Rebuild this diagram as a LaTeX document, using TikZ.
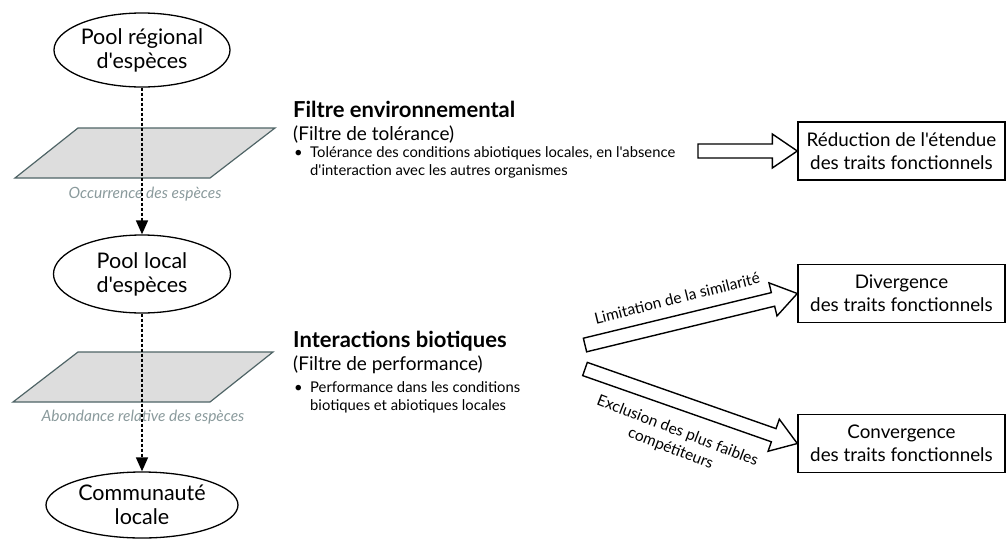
\documentclass[tikz,border=0pt]{standalone}
\usepackage{fontspec}
\setmainfont{Lato}[Ligatures=TeXOff]
\usetikzlibrary{shapes.geometric,arrows.meta,calc}
\definecolor{planefill}{HTML}{DDDDDD}
\definecolor{planeedge}{HTML}{4F6466}
\definecolor{capgray}{HTML}{8A9A9C}
\tikzset{
  pool/.style={ellipse, draw, line width=1.3pt, align=center, inner sep=0pt,
    font=\fontsize{21.5}{24}\selectfont},
  plane/.style={fill=planefill, draw=planeedge, line width=1.2pt},
  caption/.style={font=\itshape\fontsize{15.5}{18}\selectfont, text=capgray, inner sep=0pt},
  flow/.style={line width=1.6pt, dash pattern=on 3pt off 2pt, -{Triangle[length=14pt,width=12pt]}},
  head/.style={font=\bfseries\fontsize{22}{25}\selectfont, anchor=base west, inner sep=0pt},
  subhead/.style={font=\fontsize{19}{22}\selectfont, anchor=base west, inner sep=0pt},
  bul/.style={font=\fontsize{14.8}{18}\selectfont, anchor=base west, inner sep=0pt},
  res/.style={draw, line width=1.4pt, align=center, minimum width=207pt, minimum height=58pt,
    inner sep=0pt, font=\fontsize{18.8}{23}\selectfont},
  barrow/.style={draw, line width=1.4pt, fill=white, line join=miter},
  alabel/.style={font=\fontsize{15.5}{19}\selectfont, align=center, inner sep=0pt},
}
\newcommand{\blockarrow}[2]{%
  \draw[barrow] let \p1=(#1), \p2=(#2), \n1={atan2(\y2-\y1,\x2-\x1)}, \n2={veclen(\x2-\x1,\y2-\y1)} in
    [shift={(\p1)}, rotate=\n1]
    (0pt,-7pt) -- ({\n2*1pt-25pt},-7pt) -- ({\n2*1pt-25pt},-17pt) -- ({\n2*1pt},0pt)
    -- ({\n2*1pt-25pt},17pt) -- ({\n2*1pt-25pt},7pt) -- (0pt,7pt) -- cycle;}
\begin{document}
\begin{tikzpicture}[x=1pt,y=-1pt]
\useasboundingbox (0,0) rectangle (1007,539);
% planes
\draw[plane] (78,128) -- (275,128) -- (210,178) -- (15,178) -- cycle;
\draw[plane] (78,352) -- (273,352) -- (210,402) -- (13,402) -- cycle;
\node[caption] (c1) at (145,194) {Occurrence des espèces};
\node[caption] (c2) at (143,417) {Abondance relative des espèces};
% pools
\node[pool, minimum width=176pt, minimum height=74pt] (e1) at (142,50) {Pool régional\\d'espèces};
\node[pool, minimum width=177pt, minimum height=78pt] (e2) at (142,274) {Pool local\\d'espèces};
\node[pool, minimum width=192pt, minimum height=66pt] (e3) at (142,505) {Communauté\\locale};
\draw[flow] (e1) -- (e2);
\draw[flow] (e2) -- (e3);
% texts
\node[head] (t1) at (293,117) {Filtre environnemental};
\node[subhead] (t1s) at (293,140) {(Filtre de tolérance)};
\node[bul] (b1) at (294,157) {•};
\node[bul] (t1a) at (310,157) {Tolérance des conditions abiotiques locales, en l'absence};
\node[bul] (t1b) at (310,175) {d'interaction avec les autres organismes};
\node[head] (t2) at (293,347) {Interactions biotiques};
\node[subhead] (t2s) at (293,370) {(Filtre de performance)};
\node[bul] (b2) at (294,392) {•};
\node[bul] (t2a) at (310,392) {Performance dans les conditions};
\node[bul] (t2b) at (310,410) {biotiques et abiotiques locales};
% result boxes
\node[res] (r1) at (901.5,151) {Réduction de l'étendue\\des traits fonctionnels};
\node[res] (r2) at (901.5,293.5) {Divergence\\des traits fonctionnels};
\node[res] (r3) at (901.5,443.5) {Convergence\\des traits fonctionnels};
% block arrows
\coordinate (a1) at (698,151);
\coordinate (a2) at (585,345);
\coordinate (a3) at (585,369);
\blockarrow{a1}{r1.west}
\blockarrow{a2}{r2.west}
\blockarrow{a3}{r3.west}
\node[alabel, rotate=14] (l2) at (677,298) {Limitation de la similarité};
\node[alabel, rotate=-21] (l3) at (674,440) {Exclusion des plus faibles\\compétiteurs};
\end{tikzpicture}
\end{document}
